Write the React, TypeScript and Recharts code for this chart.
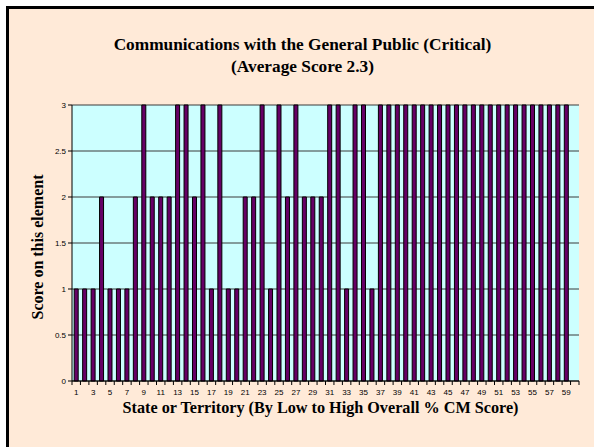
import React from "react";
import { BarChart, Bar, XAxis, YAxis, CartesianGrid } from "recharts";

const states: number[] = Array.from({ length: 60 }, (_, i) => i + 1);
const scores: (number | null)[] = [
  1, 1, 1, 2, 1, 1, 1, 2, 3, 2,
  2, 2, 3, 3, 2, 3, 1, 3, 1, 1,
  2, 2, 3, 1, 3, 2, 3, 2, 2, 2,
  3, 3, 1, 3, 3, 1, 3, 3, 3, 3,
  3, 3, 3, 3, 3, 3, 3, 3, 3, 3,
  3, 3, 3, 3, 3, 3, 3, 3, 3, null,
];
const yTicks: number[] = [0, 0.5, 1, 1.5, 2, 2.5, 3];
const titleLine1 = "Communications with the General Public (Critical)";
const titleLine2 = "(Average Score 2.3)";
const xTitle = "State or Territory  (By Low to High Overall % CM Score)";
const yTitle = "Score on this element";

const data = states.map((s, i) => ({ state: String(s), score: scores[i] }));

const CHART_W = 585;
const CHART_H = 438;
const MARGIN = { top: 96, right: 15, left: 0, bottom: 46 };
const Y_W = 63;
const STEP = (CHART_W - MARGIN.right - Y_W) / states.length;

const XTick = (props: any) => {
  const { x, y, payload, index } = props;
  const bx = x - STEP / 2;
  return (
    <g>
      <line x1={bx} y1={y - 8} x2={bx} y2={y - 4} stroke="#000" strokeWidth={1} />
      {index === states.length - 1 && (
        <line x1={bx + STEP} y1={y - 8} x2={bx + STEP} y2={y - 4} stroke="#000" strokeWidth={1} />
      )}
      {index % 2 === 0 && (
        <text x={x} y={y + 6} textAnchor="middle" fontSize={8} fontFamily="Liberation Sans, Arial, sans-serif" fill="#000">
          {payload.value}
        </text>
      )}
    </g>
  );
};

const serif = "Liberation Serif, Times New Roman, serif";

export default function App() {
  return (
    <div
      style={{
        position: "absolute",
        left: 6,
        top: 6,
        width: 588,
        height: 441,
        borderTop: "3px solid #000",
        borderLeft: "3px solid #000",
        background: "#FFEAD8",
        boxSizing: "border-box",
        overflow: "hidden",
      }}
    >
      <div
        style={{
          position: "absolute",
          left: 0,
          width: 585,
          top: 25,
          textAlign: "center",
          fontFamily: serif,
          fontWeight: "bold",
          fontSize: 17.3,
          lineHeight: "22px",
          color: "#000",
        }}
      >
        <div style={{ position: "relative", left: 1 }}>{titleLine1}</div>
        <div style={{ position: "relative", left: 1 }}>{titleLine2}</div>
      </div>
      <div
        style={{
          position: "absolute",
          left: 58,
          width: 507,
          top: 389,
          textAlign: "center",
          fontFamily: serif,
          fontWeight: "bold",
          fontSize: 16.2,
          lineHeight: "20px",
          color: "#000",
        }}
      >
        {xTitle}
      </div>
      <div
        style={{
          position: "absolute",
          left: 29 - 120,
          top: 238 - 10,
          width: 240,
          height: 20,
          textAlign: "center",
          transform: "rotate(-90deg)",
          fontFamily: serif,
          fontWeight: "bold",
          fontSize: 16,
          lineHeight: "20px",
          color: "#000",
        }}
      >
        {yTitle}
      </div>
      <div style={{ position: "absolute", left: 0, top: 0 }}>
        <BarChart width={CHART_W} height={CHART_H} data={data} margin={MARGIN} barCategoryGap="26%">
          <CartesianGrid vertical={false} stroke="#3a3a3a" fill="#CCFFFF" />
          <XAxis
            dataKey="state"
            interval={0}
            tickLine={false}
            axisLine={{ stroke: "#000" }}
            tick={<XTick />}
            height={20}
          />
          <YAxis
            domain={[0, 3]}
            ticks={yTicks}
            width={Y_W}
            axisLine={{ stroke: "#000" }}
            tickLine={{ stroke: "#000" }}
            tickSize={4}
            tickMargin={2}
            tick={{ fontSize: 8, fill: "#000", fontFamily: "Liberation Sans, Arial, sans-serif" }}
          />
          <Bar dataKey="score" fill="#660066" stroke="#000" strokeWidth={1} isAnimationActive={false} />
        </BarChart>
      </div>
    </div>
  );
}
